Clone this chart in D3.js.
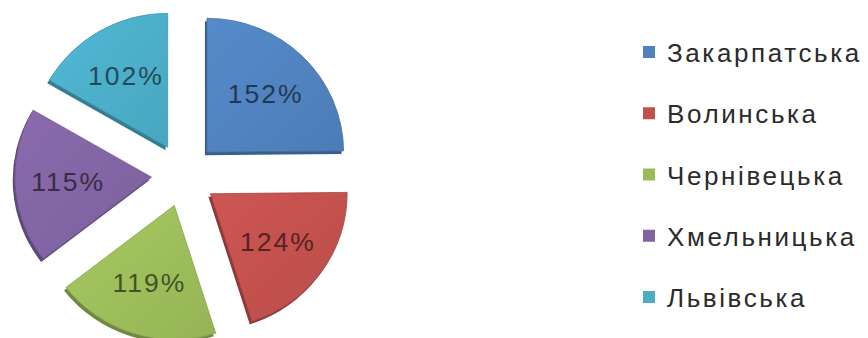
<!DOCTYPE html>
<html>
<head>
<meta charset="utf-8">
<script src="https://cdn.jsdelivr.net/npm/d3@7"></script>
<style>
  html, body { margin: 0; padding: 0; background: #fff; }
  svg { display: block; }
</style>
</head>
<body>
<svg id="chart" width="868" height="338"></svg>
<script>
// Regions and their percentage values
const categories = ["Закарпатська", "Волинська", "Чернівецька", "Хмельницька", "Львівська"];
const values = [152, 124, 119, 115, 102];
const valueLabels = values.map(v => v + "%");
const colors = ["#4F81BD", "#C0504D", "#9BBB59", "#8064A2", "#4BACC6"];

const svg = d3.select("#chart");

const radius = 134;
const explode = 32;
const cx = 184, cy = 175;

const pie = d3.pie().sort(null).value(d => d.value);
const arc = d3.arc().innerRadius(0).outerRadius(radius);

const data = categories.map((c, i) => ({ name: c, value: values[i], label: valueLabels[i], color: colors[i] }));
const arcs = pie(data);

// gradients giving each slice a soft sheen
const defs = svg.append("defs");
arcs.forEach((a, i) => {
  const g = defs.append("linearGradient")
    .attr("id", "grad" + i)
    .attr("x1", "0%").attr("y1", "0%").attr("x2", "100%").attr("y2", "100%");
  const base = d3.color(a.data.color);
  g.append("stop").attr("offset", "0%").attr("stop-color", base.brighter(0.2).formatHex());
  g.append("stop").attr("offset", "100%").attr("stop-color", base.darker(0.1).formatHex());
});

const pieG = svg.append("g").attr("transform", `translate(${cx},${cy}) scale(1.02,1)`);

const slice = pieG.selectAll("g.slice")
  .data(arcs)
  .join("g")
  .attr("class", "slice")
  .attr("transform", d => {
    const mid = (d.startAngle + d.endAngle) / 2;
    return `translate(${Math.sin(mid) * explode},${-Math.cos(mid) * explode})`;
  });

// darker rim beneath each slice for depth
slice.append("path")
  .attr("d", arc)
  .attr("transform", "translate(-2,3)")
  .attr("fill", d => d3.color(d.data.color).darker(0.9).formatHex());

slice.append("path")
  .attr("d", arc)
  .attr("fill", (d, i) => `url(#grad${i})`)
  .attr("stroke", d => d3.color(d.data.color).darker(0.4).formatHex())
  .attr("stroke-width", 0.8);

slice.append("text")
  .attr("transform", d => {
    const mid = (d.startAngle + d.endAngle) / 2;
    const rr = radius * 0.61;
    return `translate(${Math.sin(mid) * rr},${-Math.cos(mid) * rr})`;
  })
  .attr("text-anchor", "middle")
  .attr("dominant-baseline", "central")
  .attr("font-family", "Liberation Sans, Arial, sans-serif")
  .attr("font-size", 26)
  .attr("letter-spacing", 2)
  .attr("fill", d => d3.color(d.data.color).darker(2.3).formatHex())
  .text(d => d.data.label);

// legend
const legendY = d3.scalePoint().domain(categories).range([52, 297]);
const legend = svg.append("g").attr("class", "legend");
const item = legend.selectAll("g")
  .data(data)
  .join("g")
  .attr("transform", d => `translate(643,${legendY(d.name)})`);

item.append("rect")
  .attr("x", 0).attr("y", -6)
  .attr("width", 12).attr("height", 12)
  .attr("fill", d => d.color);

item.append("text")
  .attr("x", 24)
  .attr("y", 1)
  .attr("dominant-baseline", "central")
  .attr("font-family", "Liberation Sans, Arial, sans-serif")
  .attr("font-size", 26)
  .attr("letter-spacing", 2.6)
  .attr("fill", "#2b2b2b")
  .text(d => d.name);
</script>
</body>
</html>
